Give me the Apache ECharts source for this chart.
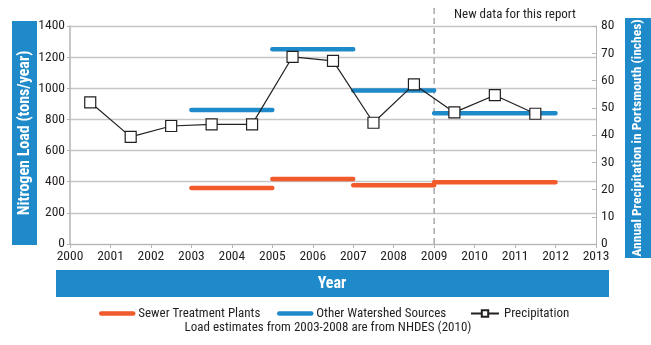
<!DOCTYPE html>
<html>
<head>
<meta charset="utf-8">
<script src="https://cdn.jsdelivr.net/npm/echarts@6/dist/echarts.min.js"></script>
<style>
  html, body { margin: 0; padding: 0; background: #fff; }
  #chart { width: 651px; height: 345px; }
</style>
</head>
<body>
<div id="chart"></div>
<script>
// Load estimate periods (start year, end year)
const periodStarts = [2003, 2005, 2007, 2009];
const periodEnds = [2005, 2007, 2009, 2012];
// Nitrogen load, tons/year
const sewerLoad = [360, 417, 377, 396];
const otherLoad = [860, 1250, 985, 840];
// Annual precipitation in Portsmouth, inches
const precipYears = [2000, 2001, 2002, 2003, 2004, 2005, 2006, 2007, 2008, 2009, 2010, 2011];
const precipInches = [52.0, 39.3, 43.3, 43.9, 43.9, 68.7, 67.2, 44.5, 58.6, 48.3, 54.6, 47.8];
// Year from which the data is new
const newDataFrom = 2009;

const FONT = '"Roboto Condensed", "DejaVu Sans Condensed", sans-serif';
const BLUE = '#1f8ac9';
const ORANGE = '#f15a2b';
const INK = '#231f20';

// Step segments: one flat run per period, broken between periods
function periodSegments(values) {
  const out = [];
  values.forEach((v, i) => {
    out.push([periodStarts[i], v], [periodEnds[i], v], [periodEnds[i], '-']);
  });
  return out;
}

const chart = echarts.init(document.getElementById('chart'), null, { renderer: 'canvas' });

const labelStyle = { color: INK, fontFamily: FONT, fontSize: 13 };

chart.setOption({
  animation: false,
  backgroundColor: '#fff',
  grid: { left: 70, right: 55, top: 26, bottom: 101, containLabel: false },
  xAxis: {
    type: 'value', min: 2000, max: 2013, interval: 1,
    axisLine: { show: true, lineStyle: { color: '#b5b5b5', width: 1 } },
    axisTick: { show: true, length: 4, lineStyle: { color: '#b5b5b5' } },
    splitLine: { show: false },
    axisLabel: { ...labelStyle, fontSize: 13.5, margin: 6, formatter: v => String(v) }
  },
  yAxis: [
    {
      type: 'value', min: 0, max: 1400, interval: 200, position: 'left',
      axisLine: { show: true, lineStyle: { color: '#b5b5b5', width: 1.5 } },
      axisTick: { show: true, length: 3, lineStyle: { color: '#b5b5b5' } },
      splitLine: { show: true, lineStyle: { color: '#c6c6c6', width: 1.3 } },
      axisLabel: { ...labelStyle, fontSize: 13.5, margin: 5, formatter: v => String(v) }
    },
    {
      type: 'value', min: 0, max: 80, interval: 10, position: 'right',
      axisLine: { show: true, lineStyle: { color: '#b5b5b5', width: 1 } },
      axisTick: { show: true, inside: true, length: 4, lineStyle: { color: '#b5b5b5' } },
      splitLine: { show: false },
      axisLabel: { ...labelStyle, fontSize: 13.5, margin: 5, formatter: v => String(v) }
    }
  ],
  legend: [
    {
      data: ['Sewer Treatment Plants'], left: 94, top: 302,
      itemWidth: 32, itemHeight: 10, itemStyle: { opacity: 0 },
      lineStyle: { width: 4.5, cap: 'round' },
      textStyle: { ...labelStyle, fontSize: 13 }
    },
    {
      data: ['Other Watershed Sources'], left: 272, top: 302,
      itemWidth: 32, itemHeight: 10, itemStyle: { opacity: 0 },
      lineStyle: { width: 4.5, cap: 'round' },
      textStyle: { ...labelStyle, fontSize: 13 }
    },
    {
      data: ['Precipitation'], left: 465, top: 302,
      itemWidth: 28, itemHeight: 8,
      textStyle: { ...labelStyle, fontSize: 13 }
    }
  ],
  graphic: [
    // Left axis title band
    { type: 'rect', left: 12, top: 21, shape: { width: 25, height: 224 }, style: { fill: BLUE }, silent: true },
    {
      type: 'text', x: 25, y: 133, rotation: Math.PI / 2,
      style: {
        text: 'Nitrogen Load (tons/year)', fill: '#fff', font: 'bold 16px ' + FONT,
        align: 'center', verticalAlign: 'middle'
      }
    },
    // Right axis title band
    { type: 'rect', left: 625, top: 18, shape: { width: 26, height: 240 }, style: { fill: BLUE }, silent: true },
    {
      type: 'text', x: 638, y: 138, rotation: Math.PI / 2,
      style: {
        text: 'Annual Precipitation in Portsmouth (inches)', fill: '#fff', font: 'bold 13.5px ' + FONT,
        align: 'center', verticalAlign: 'middle'
      }
    },
    // X axis title band
    { type: 'rect', left: 56, top: 270, shape: { width: 553, height: 27 }, style: { fill: BLUE }, silent: true },
    {
      type: 'text', x: 332, y: 284,
      style: { text: 'Year', fill: '#fff', font: 'bold 16px ' + FONT, align: 'center', verticalAlign: 'middle' }
    },
    {
      type: 'text', x: 515, y: 15,
      style: { text: 'New data for this report', fill: INK, font: '13px ' + FONT, align: 'center', verticalAlign: 'middle' }
    },
    {
      type: 'text', x: 328, y: 328,
      style: { text: 'Load estimates from 2003-2008 are from NHDES (2010)', fill: INK, font: '13px ' + FONT, align: 'center', verticalAlign: 'middle' }
    }
  ],
  series: [
    {
      name: 'divider', type: 'line', yAxisIndex: 0, clip: false, silent: true,
      data: [[newDataFrom, 0], [newDataFrom, 1540]],
      symbol: 'none',
      lineStyle: { color: '#a8a8a8', width: 1.5, type: [6, 4] },
      z: 1
    },
    {
      name: 'Sewer Treatment Plants', type: 'line', yAxisIndex: 0,
      data: periodSegments(sewerLoad), connectNulls: false,
      symbol: 'none', showSymbol: false,
      itemStyle: { color: ORANGE },
      lineStyle: { color: ORANGE, width: 4.5, cap: 'round' },
      z: 2
    },
    {
      name: 'Other Watershed Sources', type: 'line', yAxisIndex: 0,
      data: periodSegments(otherLoad), connectNulls: false,
      symbol: 'none', showSymbol: false,
      itemStyle: { color: BLUE },
      lineStyle: { color: BLUE, width: 4.5, cap: 'round' },
      z: 2
    },
    {
      name: 'Precipitation', type: 'line', yAxisIndex: 1,
      data: precipYears.map((y, i) => [y + 0.5, precipInches[i]]),
      symbol: 'rect', symbolSize: 11, showSymbol: true,
      itemStyle: { color: '#ffffff', borderColor: INK, borderWidth: 1.2 },
      lineStyle: { color: INK, width: 1.2 },
      z: 3
    }
  ]
});
</script>
</body>
</html>
